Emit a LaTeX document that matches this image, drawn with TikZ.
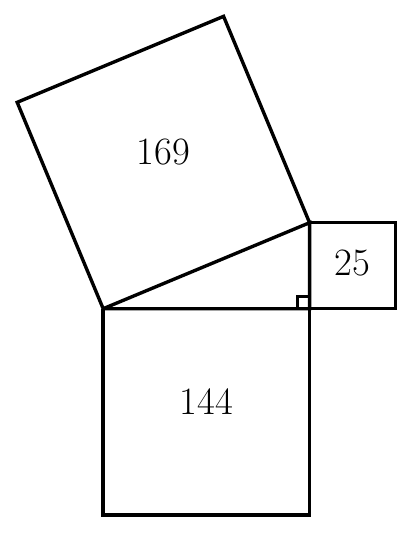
\documentclass[tikz,border=0pt]{standalone}
\usepackage{amsmath, amssymb}
\usepackage{tikz}

\begin{document}
\begin{tikzpicture}[x=0.5cm, y=0.5cm, line width=2.8pt, miter limit=2,
    area/.style={font=\fontsize{32}{38}\selectfont}]
    \useasboundingbox (-6,-13.1) rectangle (18.15,17.95);
    % Corners of the triangle
    \coordinate (A) at (0,0);
    \coordinate (B) at (12,0);
    \coordinate (C) at (12,5);
    % Draw the triangle
    \draw (A) -- (B) -- (C) -- cycle;
    % Draw the squares on the sides
    \draw (A) -- (0,-12) -- (12,-12) -- (B);
    \draw (B) -- (17,0) -- (17,5) -- (C);
    \draw (C) -- (7,17) -- (-5,12) -- (A);
    % Right angle mark
    \draw[line width=2.2pt] (11.3,0) -- (11.3,0.7) -- (12,0.7);
    % Areas
    \node[area] (a169) at (3.5,9.1) {169};
    \node[area] (a144) at (6,-5.4) {144};
    \node[area] (a25) at (14.5,2.65) {25};
\end{tikzpicture}
\end{document}
